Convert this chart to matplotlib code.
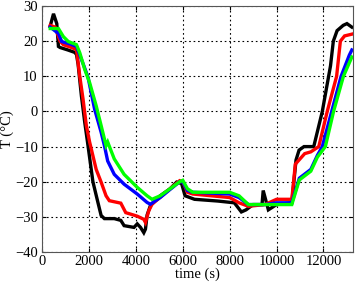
import matplotlib.pyplot as plt

plt.rcParams['font.family'] = ['Liberation Serif', 'DejaVu Serif']

# Temperaturverlaeufe
t_black = [350, 490, 630, 700, 770, 1100, 1400, 1470, 1540, 1680, 1820, 1960, 2170, 2380,
           2520, 2660, 3080, 3360, 3500, 3920, 4060, 4200, 4340, 4410, 4480, 4620, 5040,
           5460, 5740, 5950, 6100, 6300, 6500, 7500, 8200, 8500, 8700, 9000, 9380, 9430,
           9650, 10000, 10650, 10830, 10960, 11170, 11460, 11585, 11950, 12300, 12420,
           12580, 12840, 13000, 13210]
T_black = [24.3, 27.8, 25, 18.5, 18.2, 17.5, 16.8, 16.2, 13.4, 4.4, -3, -9.7, -20, -25.8,
           -29.6, -30.5, -30.5, -31, -32.5, -33, -32, -33, -34.5, -33.5, -29.5, -26.8, -24,
           -22, -20.1, -20.5, -24, -24.5, -25, -25.5, -26, -28.6, -28, -26.5, -26.5, -22.5,
           -28, -26.5, -26, -13.8, -11, -10, -10, -10, 0, 13, 20, 23, 24.5, 25, 24]

t_red = [350, 560, 770, 910, 1260, 1470, 1610, 1750, 1890, 2030, 2310, 2520, 2730, 2870,
         3080, 3360, 3570, 4060, 4340, 4410, 4550, 4690, 5460, 5870, 6000, 6200, 6430,
         8000, 8400, 8800, 9500, 10000, 10650, 10800, 11200, 11460, 11800, 12160, 12560,
         12720, 12900, 13210]
T_red = [24.5, 24, 20, 19, 18.2, 17.6, 10, 3.5, -4, -8.7, -16.5, -20.1, -24, -25.4,
         -25.7, -26.1, -28.8, -29.8, -30.7, -31.6, -28.3, -26.4, -22, -19.7, -20, -23,
         -23.5, -24.5, -26, -27, -26.5, -25, -25, -15, -12, -11.5, -10, 0, 10, 20, 21.5, 22]

t_blue = [350, 700, 840, 1200, 1470, 1750, 1960, 2240, 2520, 2660, 2800, 3080, 3500, 4060,
          4480, 4620, 5040, 5460, 5870, 6000, 6200, 6430, 8000, 8400, 8800, 9500, 10000,
          10650, 10970, 11460, 11740, 11950, 12350, 12750, 13100, 13210]
T_blue = [24, 22.2, 19.9, 19.2, 18.5, 13.6, 9.8, 0.7, -5.9, -9.7, -14.1, -17.9, -20.7,
          -23.5, -25.9, -26.4, -24.5, -22.2, -20, -20, -22.5, -23, -23.5, -24.5, -26.5,
          -26.5, -26, -26, -19, -16.5, -12.5, -10, 0, 10, 16, 17.5]

t_green = [350, 700, 910, 1120, 1470, 1610, 1820, 2030, 2310, 2520, 2730, 2800, 3080, 3500,
           4060, 4480, 4690, 5040, 5460, 5870, 6000, 6200, 6430, 8000, 8400, 8800, 9500,
           10000, 10650, 10970, 11460, 11740, 12080, 12430, 12850, 13210]
T_green = [23.6, 23.6, 21.3, 19.9, 19, 16.7, 12, 8.2, 1.6, -4, -9.7, -8.7, -13.5, -17.9,
           -21.6, -24, -25, -24, -22, -20, -19.6, -22, -23, -23, -24, -26.5, -26.5, -26.5,
           -26.5, -19.5, -17, -13, -10, 0, 10, 15.5]

fig = plt.figure(figsize=(3.56, 2.88), dpi=100)
ax = fig.add_axes([0.118, 0.125, 0.873, 0.854])

for t, T, c in [(t_black, T_black, 'black'), (t_red, T_red, 'red'),
                (t_blue, T_blue, 'blue'), (t_green, T_green, '#00ff00')]:
    ax.plot(t, T, color=c, lw=2.4, solid_joinstyle='miter')

ax.set_xlim(0, 13250)
ax.set_ylim(-40, 30)
ax.set_xticks(range(0, 13000, 2000))
ax.set_yticks(range(-40, 31, 10))
ax.grid(True, color='black', linestyle=(0, (1.5, 2.5)), lw=0.8)
ax.tick_params(direction='in', top=True, right=True, labelsize=10.5, length=3, pad=3)
ax.tick_params(axis='x', pad=2)
ax.set_xlabel('time (s)', fontsize=10.5, labelpad=0)
ax.set_ylabel('T (°C)', fontsize=10.5)
ax.yaxis.set_label_coords(-0.09, 0.5)
for s in ax.spines.values():
    s.set_color('#555555')

fig.savefig('out.png', dpi=100)
